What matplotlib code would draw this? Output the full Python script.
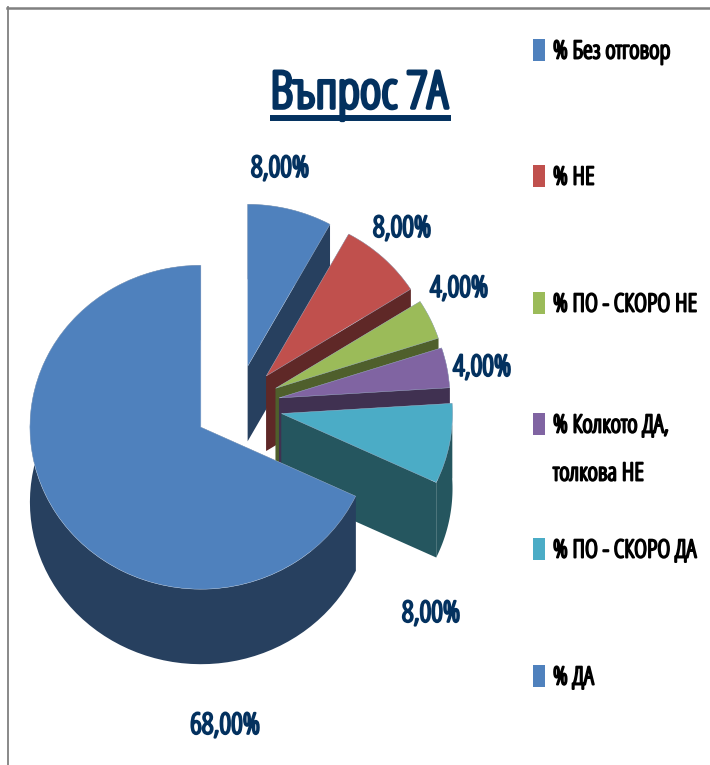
#!/usr/bin/env python

import numpy as np
import matplotlib
matplotlib.use('Agg')
import matplotlib.pyplot as plt
import matplotlib.patheffects as pe
from matplotlib.font_manager import FontProperties
from matplotlib.lines import Line2D
from matplotlib.patches import Polygon, Rectangle

# data, clockwise from 12 o'clock
categories = ['% Без отговор', '% НЕ', '% ПО - СКОРО НЕ',
              '% Колкото ДА,\nтолкова НЕ', '% ПО - СКОРО ДА', '% ДА']
values = [8, 8, 4, 4, 8, 68]
pct_labels = ['8,00%', '8,00%', '4,00%', '4,00%', '8,00%', '68,00%']
top_colors = ['#4F81BD', '#C0504D', '#9BBB59', '#8064A2', '#4BACC6', '#4F81BD']
side_colors = ['#27405F', '#5F2827', '#4F5F2C', '#403151', '#25565F', '#27405F']
explode = [0.25, 0.25, 0.25, 0.25, 0.265, 0.25]

W, H = 710, 765
RADIUS = 171
Y_SQUASH = 162.0 / 171.0  # pie top is a slightly flattened ellipse
DEPTH = 75 / Y_SQUASH
NAVY = '#03315F'


# no bold condensed font here, so thicken the light one with a stroke
def cond_text(x, y, s, size, color, stroke, **kw):
    fp = FontProperties(family='Open Sans', stretch='condensed', weight='light', size=size)
    return fig.text(x / W, 1 - y / H, s, color=color, fontproperties=fp,
                    path_effects=[pe.withStroke(linewidth=stroke, foreground=color)], **kw)


fig = plt.figure(figsize=(W / 100, H / 100), dpi=100)
ax = fig.add_axes([0, 0, 1, 1])

wedges, _ = ax.pie(values, colors=top_colors, startangle=90, counterclock=False,
                   explode=[e * RADIUS for e in explode], radius=RADIUS,
                   center=(237, (H - 405.5) / Y_SQUASH), frame=True,
                   wedgeprops={'edgecolor': '#A9BDD6', 'linewidth': 0.3})
ax.set_aspect('auto')
ax.set_xlim(0, W)
ax.set_ylim(0, H / Y_SQUASH)
ax.axis('off')


def add_sides(wedge, color, z):
    # extrude the wedge downwards: two radial faces and the outer arc
    cx, cy = wedge.center
    t = np.radians(np.linspace(wedge.theta1, wedge.theta2, 80))
    xs = cx + wedge.r * np.cos(t)
    ys = cy + wedge.r * np.sin(t)
    for x, y in [(xs[0], ys[0]), (xs[-1], ys[-1])]:
        face = [(cx, cy), (x, y), (x, y - DEPTH), (cx, cy - DEPTH)]
        ax.add_patch(Polygon(face, closed=True, fc=color, ec='none', zorder=z))
    arc = np.column_stack([np.r_[xs, xs[::-1]], np.r_[ys, ys[::-1] - DEPTH]])
    ax.add_patch(Polygon(arc, closed=True, fc=color, ec='none', zorder=z))


# painter's order: small slices first, the big one last
for i, wedge in enumerate(wedges):
    add_sides(wedge, side_colors[i], 2 * i + 1)
    wedge.set_zorder(2 * i + 2)

# percent labels
label_pos = [(280, 169), (402, 229), (459, 289), (482, 368), (431, 614), (225, 726)]
for s, (x, y) in zip(pct_labels, label_pos):
    cond_text(x, y, s, 21, NAVY, 1.6, ha='center', va='center')

# title and its underline
cond_text(359, 108, 'Въпрос 7А', 37, NAVY, 2.6, ha='center', va='baseline')
fig.add_artist(Line2D([270 / W, 451 / W], [1 - 118 / H] * 2, color=NAVY, lw=4.3,
                      solid_capstyle='butt'))

# legend
legend_y = [52, 178, 305, 426, 551, 678]
for name, color, y in zip(categories, top_colors, legend_y):
    fig.add_artist(Rectangle((533 / W, 1 - (y + 9) / H), 12 / W, 22 / H,
                             transform=fig.transFigure, fc=color, ec='none'))
    for j, line in enumerate(name.split('\n')):
        cond_text(553, y + j * 48, line, 18, 'black', 1.4, ha='left', va='center')

# frame of the original picture
fig.add_artist(Line2D([7.5 / W, 7.5 / W], [0, 1 - 7 / H], color='#808080', lw=1.3))
fig.add_artist(Line2D([7 / W, 1], [1 - 8 / H] * 2, color='#808080', lw=1.8))

plt.savefig('out.png', dpi=100)
